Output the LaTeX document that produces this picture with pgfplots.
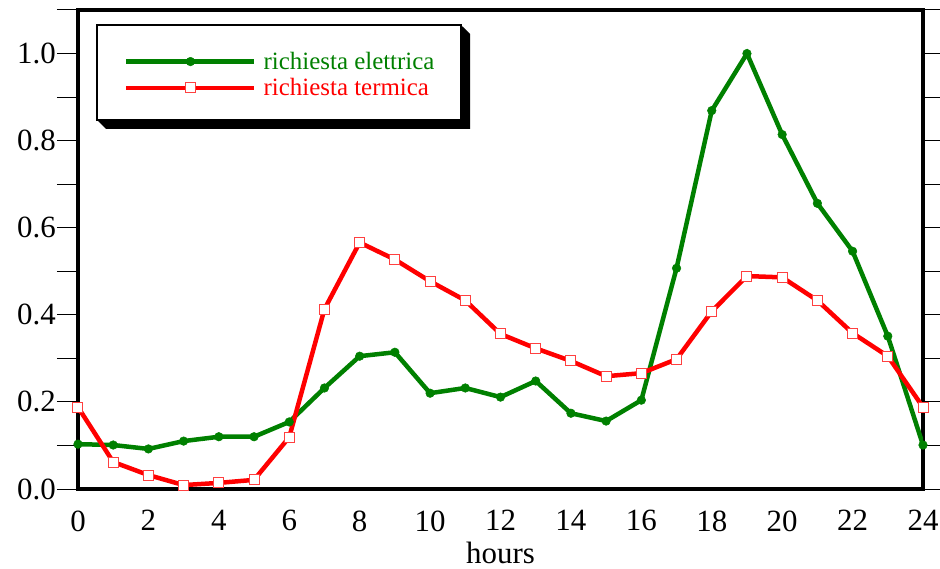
\documentclass[border=0pt]{standalone}
\usepackage{fontspec}
\setmainfont{Liberation Serif}
\usepackage{pgfplots}
\pgfplotsset{compat=1.18}
\definecolor{elgreen}{RGB}{0,128,0}
\definecolor{thred}{RGB}{255,0,0}

\begin{document}
\begin{tikzpicture}
\begin{axis}[
  scale only axis,
  width=845bp, height=479bp,
  xmin=0, xmax=24, ymin=0, ymax=1.1,
  xtick={0,2,...,24},
  ytick={0,0.2,0.4,0.6,0.8,1.0},
  minor ytick={0.1,0.3,0.5,0.7,0.9,1.1},
  axis line style={line width=4.5bp},
  tick align=outside,
  major tick length=21bp, minor tick length=21bp,
  xtick style={draw=none},
  ytick style={black, line width=1bp},
  minor tick style={gray, line width=2bp},
  ytick pos=both,
  /pgf/number format/assume math mode=true,
  tick label style={font=\fontsize{31}{31}\selectfont},
  y tick label style={inner xsep=1bp, /pgf/number format/.cd, fixed, fixed zerofill, precision=1, /tikz/.cd},
  x tick label style={yshift=3bp},
  xlabel={hours},
  xlabel style={font=\fontsize{31}{31}\selectfont, at={(axis description cs:0.5,-0.155)}, anchor=base, inner sep=0pt},
  legend style={at={(0.05444,0.9165)}, anchor=north west, draw=none, fill=none,
    font=\fontsize{25}{27}\selectfont, inner sep=0pt, row sep=3.5bp},
  legend cell align=left,
  legend image code/.code={\draw[mark repeat=2, mark phase=2, #1] plot coordinates {(0bp,0bp) (64bp,0bp) (128bp,0bp)};
    \path (133bp,0bp);},
]
% legend frame with its shadow
\fill[black] (rel axis cs:0.02249,0.77035) -- (rel axis cs:0.03314,0.75157) -- (rel axis cs:0.46391,0.75157)
  -- (rel axis cs:0.46391,0.94990) -- (rel axis cs:0.45325,0.96868) -- cycle;
\draw[black, line width=2.5bp, fill=white] (rel axis cs:0.02249,0.77035) rectangle (rel axis cs:0.45325,0.96868);
\addplot[elgreen, line width=4.5bp, mark=*, mark size=4.3bp,
  mark options={solid, fill=elgreen, draw=elgreen, line width=0.5bp}]
  coordinates {(0,0.103)(1,0.101)(2,0.092)(3,0.110)(4,0.120)(5,0.120)(6,0.154)(7,0.232)
  (8,0.305)(9,0.314)(10,0.220)(11,0.232)(12,0.211)(13,0.248)(14,0.174)(15,0.156)
  (16,0.204)(17,0.507)(18,0.869)(19,1.000)(20,0.814)(21,0.656)(22,0.546)(23,0.351)(24,0.101)};
\addlegendentry{\textcolor{elgreen}{richiesta elettrica}}
\addplot[thred, line width=4.5bp, mark=square*, mark size=5bp,
  mark options={solid, fill=white, draw=thred!75, line width=1bp}]
  coordinates {(0,0.188)(1,0.062)(2,0.032)(3,0.009)(4,0.014)(5,0.021)(6,0.119)(7,0.413)
  (8,0.566)(9,0.527)(10,0.477)(11,0.433)(12,0.356)(13,0.323)(14,0.294)(15,0.259)
  (16,0.266)(17,0.298)(18,0.408)(19,0.489)(20,0.486)(21,0.433)(22,0.358)(23,0.305)(24,0.188)};
\addlegendentry{\textcolor{thred}{richiesta termica}}
\end{axis}
\pgfresetboundingbox
\path ([shift={(-78bp,-80bp)}]current axis.south west) rectangle ([shift={(17bp,10bp)}]current axis.north east);
\end{tikzpicture}
\end{document}
